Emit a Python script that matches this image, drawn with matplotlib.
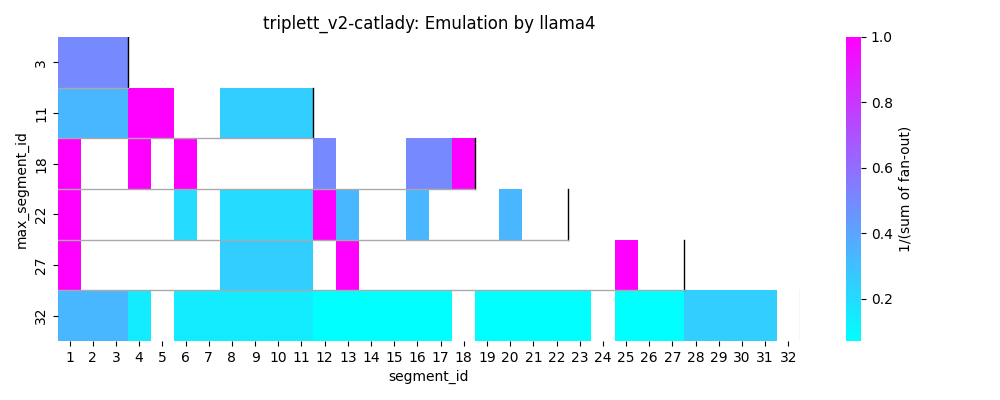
import numpy as np
import matplotlib
matplotlib.use("Agg")
import matplotlib.pyplot as plt
import seaborn as sns

max_ids = [3, 11, 18, 22, 27, 32]
segments = list(range(1, 33))
# cells: row max_id -> {segment: value}
cells = {
    3: {1: 1/2, 2: 1/2, 3: 1/2},
    11: {1: 1/3, 2: 1/3, 3: 1/3, 4: 1, 5: 1, 8: 1/4, 9: 1/4, 10: 1/4, 11: 1/4},
    18: {1: 1, 4: 1, 6: 1, 12: 1/2, 16: 1/2, 17: 1/2, 18: 1},
    22: {1: 1, 6: 1/5, 8: 1/5, 9: 1/5, 10: 1/5, 11: 1/5, 12: 1, 13: 1/3, 16: 1/3, 20: 1/3},
    27: {1: 1, 8: 1/4, 9: 1/4, 10: 1/4, 11: 1/4, 13: 1, 25: 1},
    32: {1: 1/3, 2: 1/3, 3: 1/3, 4: 1/7, 6: 1/7, 7: 1/7, 8: 1/7, 9: 1/7, 10: 1/7, 11: 1/7,
         12: 1/14, 13: 1/14, 14: 1/14, 15: 1/14, 16: 1/14, 17: 1/14,
         19: 1/14, 20: 1/14, 21: 1/14, 22: 1/14, 23: 1/14,
         25: 1/14, 26: 1/14, 27: 1/14, 28: 1/4, 29: 1/4, 30: 1/4, 31: 1/4},
}

data = np.full((len(max_ids), len(segments)), np.nan)
for i, m in enumerate(max_ids):
    for s, v in cells[m].items():
        data[i, s - 1] = v

fig = plt.figure(figsize=(10, 4), dpi=100)
ax = fig.add_axes([0.058, 0.1475, 0.742, 0.76])
cax = fig.add_axes([0.846, 0.1475, 0.015, 0.76])
sns.heatmap(data, ax=ax, cbar_ax=cax, cmap="cool",
            xticklabels=segments, yticklabels=max_ids,
            cbar_kws={"label": "1/(sum of fan-out)"})
for i, m in enumerate(max_ids):
    color = "black" if i < len(max_ids) - 1 else "lightgray"
    ax.plot([m, m], [i, i + 1], color=color, lw=1)
    if i > 0:
        ax.plot([0, max_ids[i - 1]], [i, i], color="darkgray", lw=1)
ax.set_xlabel("segment_id")
ax.set_ylabel("max_segment_id")
ax.set_title("triplett_v2-catlady: Emulation by llama4")
ax.tick_params(axis="x", rotation=0)
fig.savefig("out.png")
